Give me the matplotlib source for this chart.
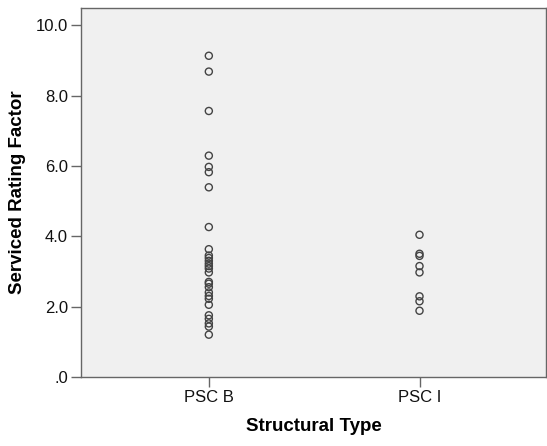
import matplotlib
matplotlib.use("Agg")
import matplotlib.pyplot as plt

plt.rcParams['font.family'] = ['Liberation Sans', 'DejaVu Sans']

categories = ["PSC B", "PSC I"]
psc_b = [9.13, 8.68, 7.56, 6.29, 5.97, 5.82, 5.39, 4.26, 3.63, 3.45, 3.38, 3.30,
         3.22, 3.15, 3.08, 2.97, 2.70, 2.65, 2.55, 2.40, 2.30, 2.22, 2.05, 1.75,
         1.65, 1.52, 1.43, 1.20]
psc_i = [4.04, 3.50, 3.44, 3.15, 2.97, 2.29, 2.15, 1.88]
yticks = [0, 2, 4, 6, 8, 10]
ytick_labels = [".0", "2.0", "4.0", "6.0", "8.0", "10.0"]

fig = plt.figure(figsize=(5.47, 4.46), dpi=100)
ax = fig.add_axes([0.148, 0.155, 0.850, 0.828])
ax.set_facecolor('#F0F0F0')

for i, vals in enumerate([psc_b, psc_i]):
    ax.scatter([i] * len(vals), vals, s=26, facecolors='none',
               edgecolors='#444444', linewidths=1.0, zorder=3)

ax.set_xlim(-0.607, 1.6)
ax.set_ylim(0, 10.5)
ax.set_xticks([0, 1])
ax.set_xticklabels(categories, fontsize=12)
ax.set_yticks(yticks)
ax.set_yticklabels(ytick_labels, fontsize=12)
for s in ax.spines.values():
    s.set_color('#666666')
    s.set_linewidth(1.0)
ax.tick_params(axis='both', direction='out', length=7.5, width=1.0,
               color='#666666', pad=2, labelcolor='#111111')

ax.set_xlabel("Structural Type", fontsize=13.5, fontweight='bold', labelpad=9)
ax.set_ylabel("Serviced Rating Factor", fontsize=13.5, fontweight='bold', labelpad=7)

fig.savefig("out.png", dpi=100)
